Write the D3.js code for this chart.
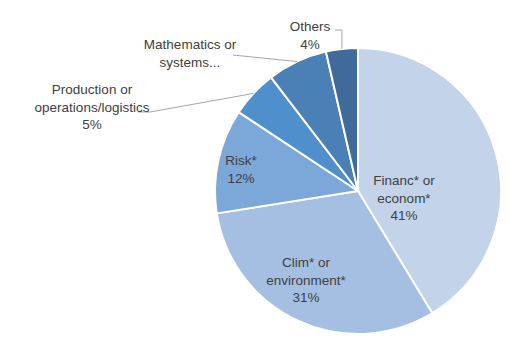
<!DOCTYPE html>
<html>
<head>
<meta charset="utf-8">
<script src="https://cdn.jsdelivr.net/npm/d3@7"></script>
<style>
  body { margin: 0; background: #fff; }
  text { font-family: "Liberation Sans", Arial, sans-serif; fill: #404040; }
</style>
</head>
<body>
<div id="chart"></div>
<script>
const categories = ["Financ* or econom*", "Clim* or environment*", "Risk*", "Production or operations/logistics", "Mathematics or systems...", "Others"];
const shares = [41.3, 31.2, 11.8, 5.3, 6.8, 3.6];
const pctLabels = ["41%", "31%", "12%", "5%", "", "4%"];
const labelLines = [
  ["Financ* or", "econom*"],
  ["Clim* or", "environment*"],
  ["Risk*"],
  ["Production or", "operations/logistics"],
  ["Mathematics or", "systems..."],
  ["Others"]
];
const colors = ["#C3D3EA", "#A5BFE3", "#7BA7D9", "#4F8FCB", "#4A80B6", "#3E6B99"];

(function () {
  const width = 509, height = 340;
  const cx = 358, cy = 191, r = 143;
  const lineH = 17.5;

  // label block centre (x, first line y) and leader elbows for outside labels
  const layout = [
    { x: 404, y: 180 },
    { x: 306, y: 262 },
    { x: 241, y: 160 },
    { x: 92, y: 89, leader: [[150, 112], [138, 112]] },
    { x: 190, y: 44, leader: [[233, 55]] },
    { x: 310, y: 26, leader: [[342, 30], [335, 30]] }
  ];

  const svg = d3.select("#chart").append("svg")
    .attr("width", width)
    .attr("height", height);

  const data = categories.map((c, i) => ({ c, v: shares[i], i }));
  const pie = d3.pie().sort(null).value(d => d.v);
  const arcs = pie(data);
  const arc = d3.arc().innerRadius(0).outerRadius(r);

  const g = svg.append("g").attr("transform", `translate(${cx},${cy})`);

  g.selectAll("path")
    .data(arcs)
    .enter()
    .append("path")
    .attr("d", arc)
    .attr("fill", d => colors[d.data.i])
    .attr("stroke", "#fff")
    .attr("stroke-width", 2);

  // leader lines
  arcs.forEach(a => {
    const L = layout[a.data.i];
    if (!L.leader) return;
    const mid = (a.startAngle + a.endAngle) / 2;
    const px = cx + r * Math.sin(mid), py = cy - r * Math.cos(mid);
    const pts = [[px, py]].concat(L.leader);
    svg.append("path")
      .attr("d", d3.line()(pts))
      .attr("fill", "none")
      .attr("stroke", "#A6A6A6")
      .attr("stroke-width", 1);
  });

  // labels
  data.forEach(d => {
    const L = layout[d.i];
    const lines = labelLines[d.i].slice();
    if (pctLabels[d.i]) lines.push(pctLabels[d.i]);
    const t = svg.append("text")
      .attr("text-anchor", "middle")
      .style("font-size", "13.5px");
    lines.forEach((s, k) => {
      t.append("tspan")
        .attr("x", L.x)
        .attr("y", L.y + k * lineH + 5)
        .text(s);
    });
  });
})();
</script>
</body>
</html>
